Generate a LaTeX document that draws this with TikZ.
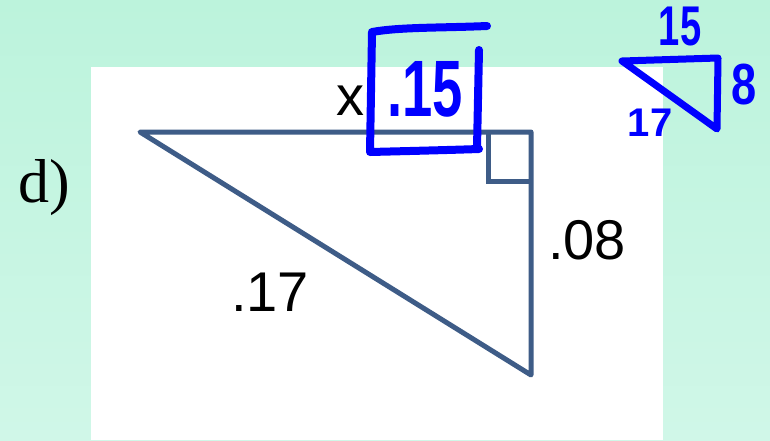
\documentclass[tikz,border=0pt]{standalone}
\usepackage{fontspec}
\setmainfont{Liberation Serif}
\setsansfont{Liberation Sans}
\usetikzlibrary{calc}
\definecolor{MintTop}{RGB}{188, 243, 220}
\definecolor{MintBottom}{RGB}{208, 247, 232}
\definecolor{EdgeBlue}{RGB}{62, 92, 135}
\definecolor{InkBlue}{RGB}{0, 0, 255}
\tikzset{
  edge/.style={line width=5pt, draw=EdgeBlue, line join=round},
  sidelbl/.style={font=\fontsize{56}{60}\selectfont\sffamily, text=black, inner sep=0pt},
  ink/.style={line width=#1, draw=InkBlue, line cap=round, line join=round},
  inklbl/.style={font=\fontsize{#1}{#1}\selectfont\sffamily\bfseries, text=InkBlue, inner sep=0pt},
}

\begin{document}
\begin{tikzpicture}[x=1pt, y=-1pt]
  % page
  \fill[top color=MintTop, bottom color=MintBottom] (0,0) rectangle (770,440);
  \useasboundingbox (0,0) rectangle (770,440);
  \fill[white] (91,67) rectangle (663,440);

  \node[font=\fontsize{62}{66}\selectfont\rmfamily, inner sep=0pt] (part) at (44,188) {d)};

  % triangle
  \coordinate (acute) at (140,132);
  \coordinate (rt) at (531,132);
  \coordinate (low) at (531,375);
  \draw[edge] (acute) -- (rt) -- (low) -- cycle;
  \draw[edge, line join=miter] ($(rt)+(-43,0)$) |- ($(rt)+(0,49)$);

  \node[sidelbl] (lblx) at (350,101) {x};
  \node[sidelbl] (lblb) at (587,240) {.08};
  \node[sidelbl] (lblc) at (270,292) {.17};

  % handwritten answer
  \node[inklbl=80, xscale=0.68] (ans) at (425,89) {.15};
  \draw[ink=8pt] (487,26) .. controls (440,28) and (400,27) .. (372,32)
    -- (370,152) .. controls (410,151) and (450,150) .. (479,149);
  \draw[ink=8pt] (479,50) -- (477,148);

  % side sketch
  \coordinate (s1) at (622,61);
  \coordinate (s2) at (718,58);
  \coordinate (s3) at (717,129);
  \draw[ink=7pt] (s1) -- (s2) -- (s3) -- cycle;
  \node[inklbl=56, xscale=0.68] (sk15) at (680,27) {15};
  \node[inklbl=58, xscale=0.78] (sk8) at (744,85) {8};
  \node[inklbl=40] (sk17) at (650,123) {17};
\end{tikzpicture}
\end{document}
